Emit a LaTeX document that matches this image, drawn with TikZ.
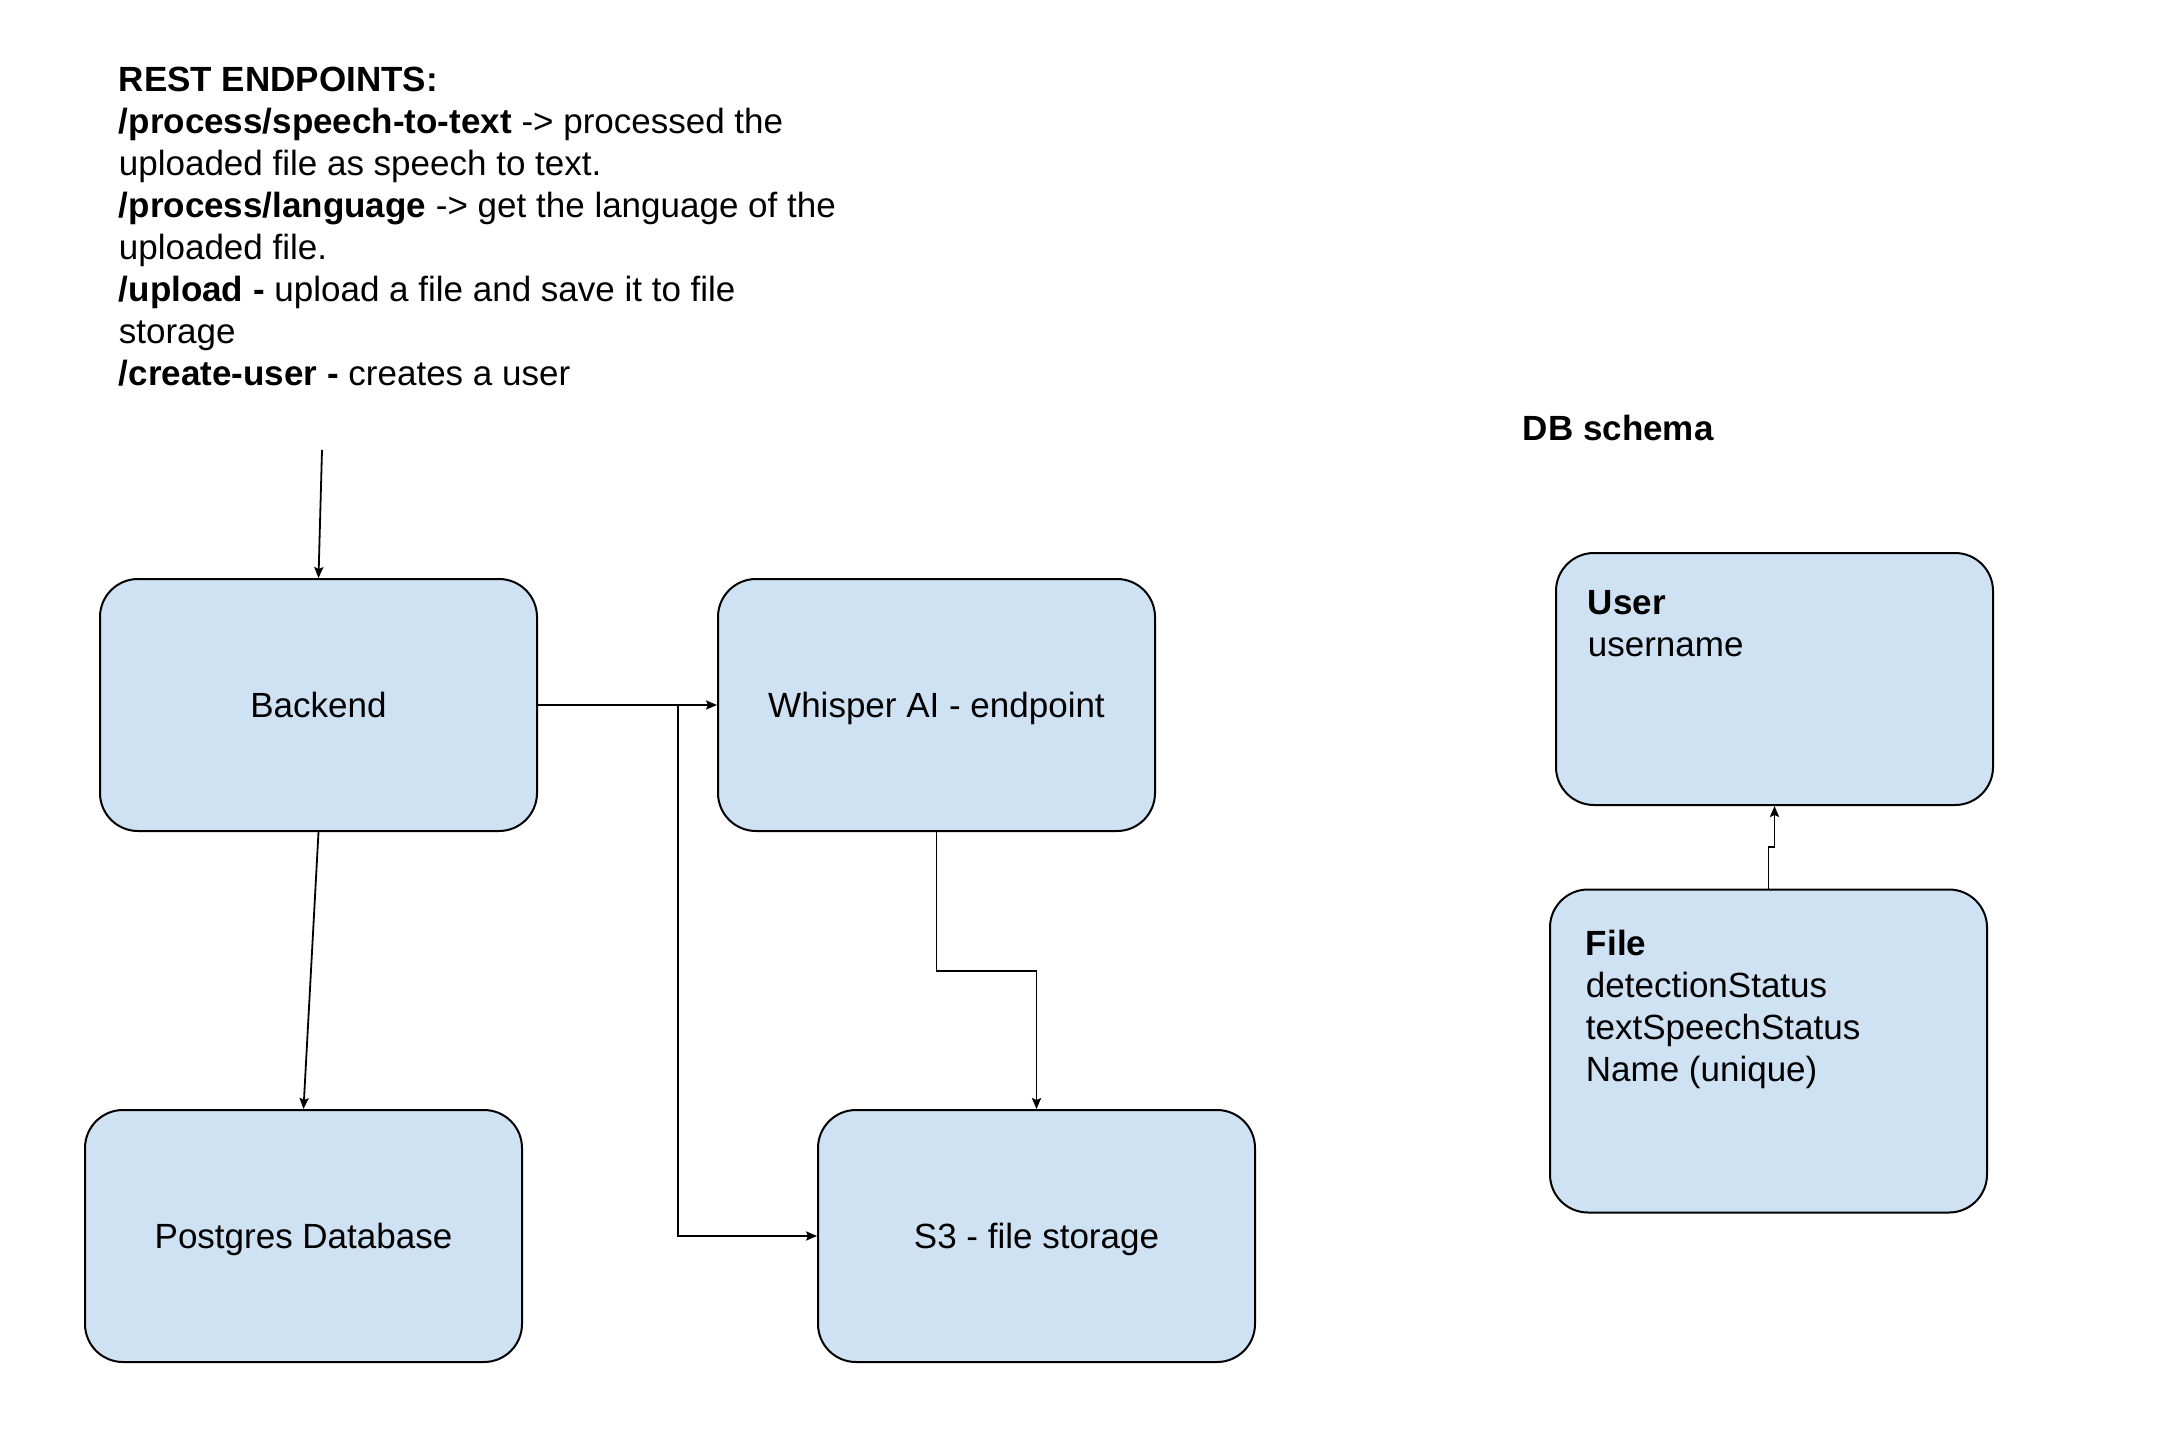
\documentclass[tikz,border=0pt]{standalone}
\usepackage{fontspec}
\setmainfont{Liberation Sans}
\usetikzlibrary{arrows.meta,calc}
\definecolor{boxblue}{HTML}{CFE2F3}
\tikzset{
  box/.style={draw,fill=boxblue,rounded corners=19pt,line width=1pt,minimum width=218.5pt,minimum height=126pt,inner sep=0pt,text height=1.25em,text depth=0pt},
  txt/.style={anchor=north west,align=left,inner sep=0pt},
}
\begin{document}
\begin{tikzpicture}[x=0.5pt,y=-0.5pt,>={Stealth[length=5.5pt,width=4.6pt,inset=1pt]},font=\fontsize{17.5}{21}\selectfont,line width=0.9pt]
  \useasboundingbox (0,0) rectangle (2178,1450);
  % endpoints list
  \node[txt] (rest) at (118,66.6) {\textbf{REST ENDPOINTS:}\\
    \textbf{/process/speech-to-text} -> processed the\\
    uploaded file as speech to text.\\
    \textbf{/process/language} -> get the language of the\\
    uploaded file.\\
    \textbf{/upload -} upload a file and save it to file\\
    storage\\
    \textbf{/create-user -} creates a user};
  \node[anchor=base west,inner sep=0pt,font=\fontsize{17.5}{21}\selectfont\bfseries] (dbtitle) at (1522,440) {DB schema};
  % services
  \node[box] (backend) at (318.5,705) {Backend};
  \node[box] (whisper) at (936.5,705) {Whisper AI - endpoint};
  \node[box] (postgres) at (303.5,1236) {Postgres Database};
  \node[box] (s3) at (1036.5,1236) {S3 - file storage};
  % schema
  \node[box] (user) at (1774.5,679) {};
  \node[box,minimum height=161.5pt] (file) at (1768.5,1051) {};
  \node[txt] (usertxt) at (1587,590) {\textbf{User}\\username};
  \node[txt] (filetxt) at (1585,929) {\textbf{File}\\detectionStatus\\textSpeechStatus\\Name (unique)};
  % connectors
  \coordinate (client) at (322,450);
  \coordinate (split) at (678,705);
  \draw[->] (client) -- (backend.north);
  \draw[->] (backend.east) -- (whisper.west);
  \draw[->] (split) |- (s3.west);
  \draw[->] (backend.south) -- (postgres.north);
  \draw[->] (whisper.south) -- ++(0,139) -| (s3.north);
  \draw[->] (file.north) |- ($(file.north)!.5!(user.south)$) -| (user.south);
\end{tikzpicture}
\end{document}
